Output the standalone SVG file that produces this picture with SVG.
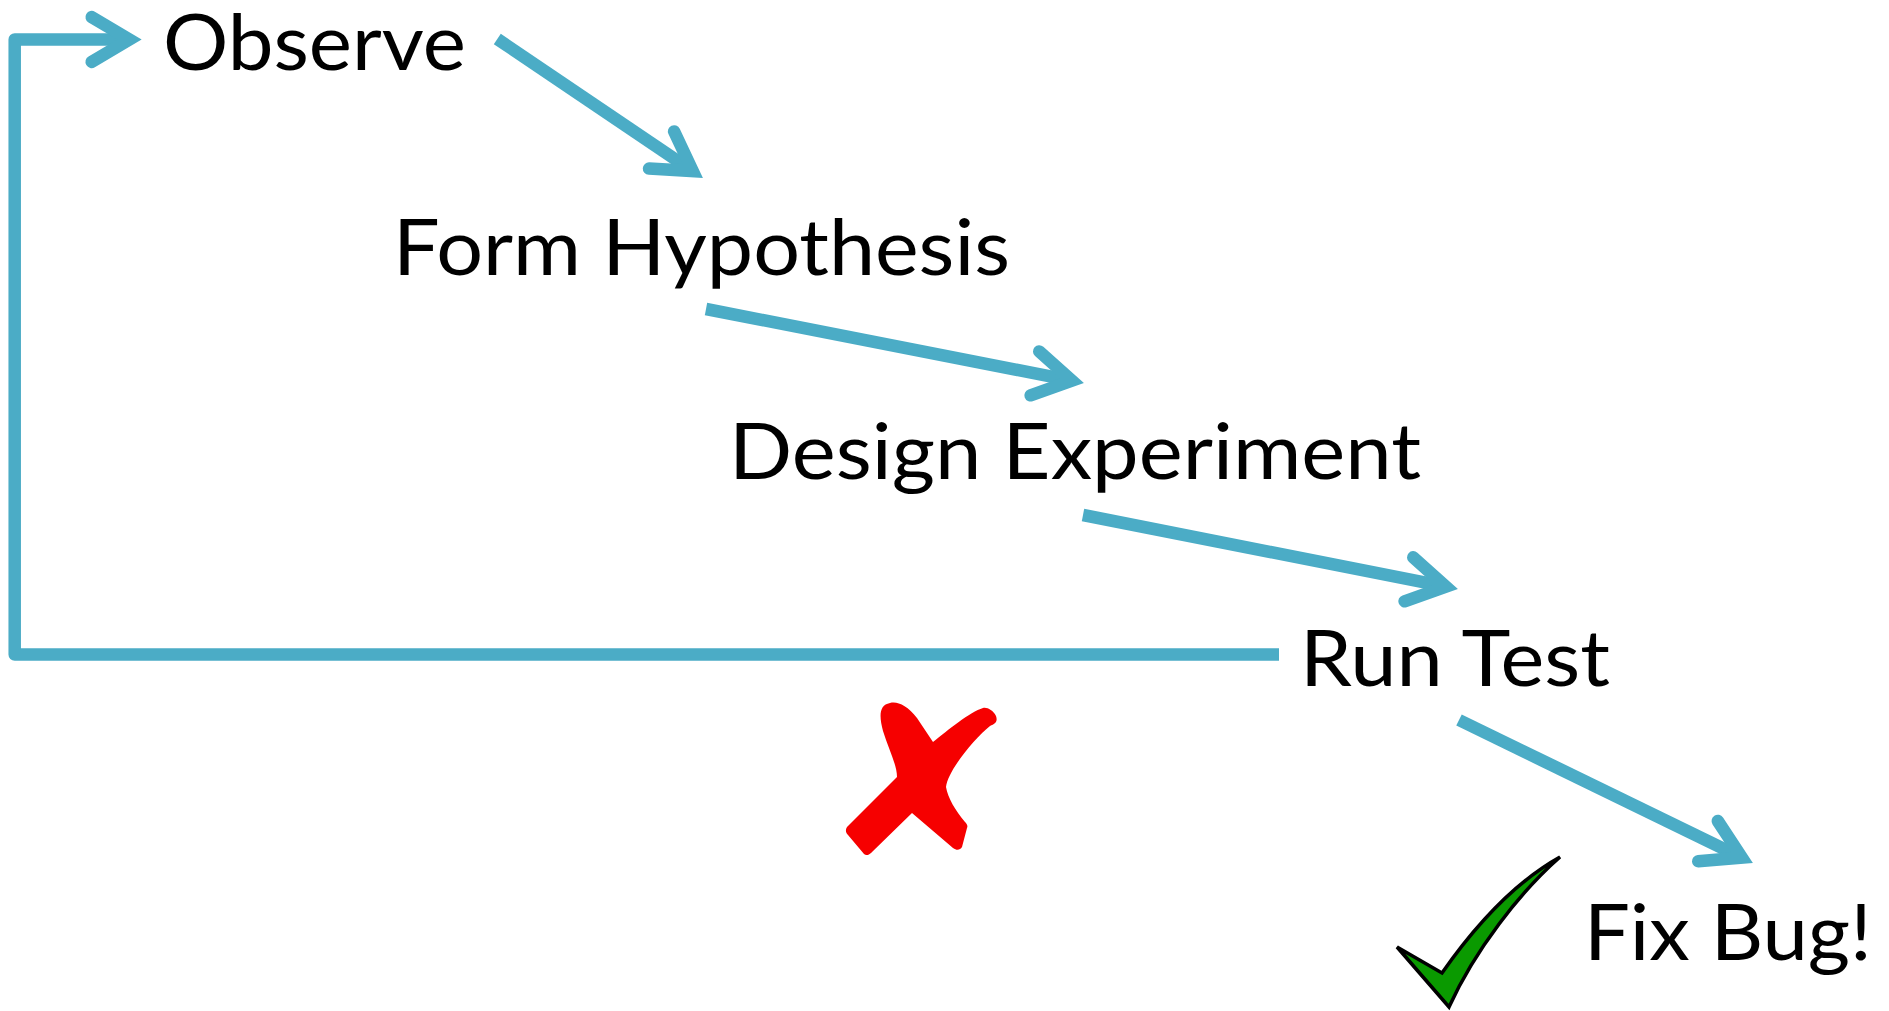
<svg xmlns="http://www.w3.org/2000/svg" width="1889" height="1011" viewBox="0 0 1889 1011">
  <style>
    .lbl { font-family: Lato, "Open Sans", "Liberation Sans", sans-serif; font-size: 78px; fill: #000000; }
    .conn { fill: none; stroke: #4BACC6; stroke-width: 12.5; stroke-linecap: butt; stroke-linejoin: round; }
  </style>
  <defs>
    <marker id="ah" markerUnits="userSpaceOnUse" orient="auto" viewBox="-60 -40 100 80" refX="0" refY="0" markerWidth="100" markerHeight="80" overflow="visible">
      <path d="M-37.7,-22.4 L0,0 L-37.7,22.4" fill="none" stroke="#4BACC6" stroke-width="12.5" stroke-linecap="round" stroke-linejoin="miter" stroke-miterlimit="10"/>
    </marker>
  </defs>
  <rect width="1889" height="1011" fill="#ffffff"/>

  <g id="connectors">
    <path id="loop" class="conn" d="M1279,654.5 L14.7,654.5 L14.7,39.5 L129.4,39.5" marker-end="url(#ah)"/>
    <path id="a1" class="conn" d="M497.3,39 L692.8,171.1" marker-end="url(#ah)"/>
    <path id="a2" class="conn" d="M706,309 L1071.9,380.6" marker-end="url(#ah)"/>
    <path id="a3" class="conn" d="M1083,515 L1445.9,586.6" marker-end="url(#ah)"/>
    <path id="a4" class="conn" d="M1459,720 L1741.9,857.6" marker-end="url(#ah)"/>
  </g>

  <g id="observe"><text class="lbl" x="163" y="70" textLength="303" lengthAdjust="spacingAndGlyphs">Observe</text></g>
  <g id="form-hypothesis"><text class="lbl" x="393" y="275" textLength="617" lengthAdjust="spacingAndGlyphs">Form Hypothesis</text></g>
  <g id="design-experiment"><text class="lbl" x="729" y="479" textLength="692" lengthAdjust="spacingAndGlyphs">Design Experiment</text></g>
  <g id="run-test"><text class="lbl" x="1300" y="686" textLength="310" lengthAdjust="spacingAndGlyphs">Run Test</text></g>
  <g id="fix-bug"><text class="lbl" x="1584" y="960" textLength="288" lengthAdjust="spacingAndGlyphs">Fix Bug!</text></g>

  <g id="fail-mark">
    <path d="M890,703 C879,705 879,716 883,731 C889,750 897,765 897,777 L847,827 C845,830 846,833 848,835 L864,854 C866,856 869,855 871,853 L912,813 L953,848 C957,851 960,850 962,847 L967,828 C968,826 967,824 965,822 C955,810 948,798 946,787 C948,770 975,738 990,726 C995,724 998,722 996,716 C993,710 987,707 983,708 C970,712 948,730 933,742 L917,718 C907,705 897,701 890,703 Z" fill="#f60000"/>
  </g>

  <g id="success-mark">
    <path d="M1397,947 L1442,973 C1470,933 1510,885 1560,857 C1520,892 1475,950 1449,1007 Z" fill="#0a9a00" stroke="#000000" stroke-width="3.5" stroke-linejoin="miter"/>
  </g>
</svg>
